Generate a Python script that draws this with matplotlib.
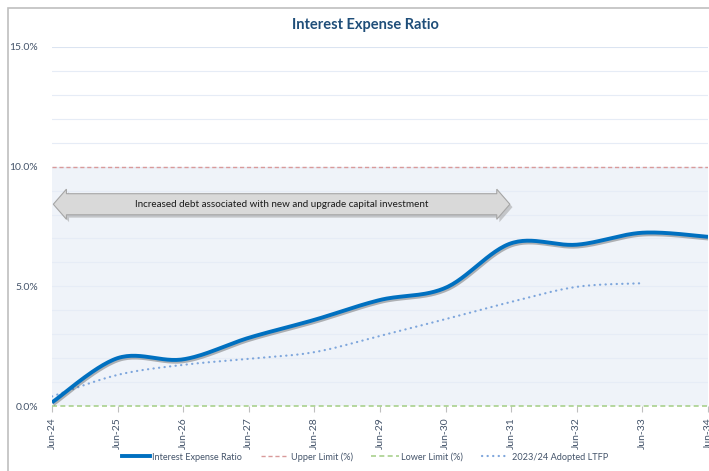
import numpy as np
import matplotlib
matplotlib.use("Agg")
import matplotlib.pyplot as plt
import matplotlib.patheffects as pe
from matplotlib.patches import Polygon, Rectangle
from matplotlib.lines import Line2D

plt.rcParams["font.family"] = ["Lato", "DejaVu Sans"]

# ---- data ---------------------------------------------------------------
periods = ["Jun-24", "Jun-25", "Jun-26", "Jun-27", "Jun-28", "Jun-29",
           "Jun-30", "Jun-31", "Jun-32", "Jun-33", "Jun-34"]
interest_ratio = [0.15, 2.00, 1.95, 2.85, 3.60, 4.43, 4.94, 6.80, 6.74, 7.24, 7.07]
ltfp_2324 = [0.40, 1.30, 1.72, 1.97, 2.25, 2.93, 3.63, 4.35, 4.98, 5.13]
upper_limit = 10.0
lower_limit = 0.0
arrow_text = "Increased debt associated with new and upgrade capital investment"
arrow_span = ("Jun-24", "Jun-31")


def smooth(xv, yv, n=30):
    """Excel-style smoothed line: cubic Bezier through each point."""
    p = np.column_stack([xv, yv]).astype(float)
    out = []
    for i in range(len(p) - 1):
        p0 = p[i - 1] if i > 0 else p[i]
        p1, p2 = p[i], p[i + 1]
        p3 = p[i + 2] if i + 2 < len(p) else p[i + 1]
        c1 = p1 + (p2 - p0) / 6.0
        c2 = p2 - (p3 - p1) / 6.0
        t = np.linspace(0, 1, n)[:, None]
        seg = ((1 - t) ** 3) * p1 + 3 * ((1 - t) ** 2) * t * c1 \
            + 3 * (1 - t) * t ** 2 * c2 + t ** 3 * p2
        out.append(seg if i == 0 else seg[1:])
    s = np.vstack(out)
    return s[:, 0], s[:, 1]


DOTS = (0, (0.1, 2.4))

fig = plt.figure(figsize=(7.09, 4.71), dpi=100)
fig.patch.set_facecolor("white")
# chart-area border (cropped at right / bottom in the original)
fig.add_artist(Rectangle((8 / 709, -0.1), 1.2, 1 - 8 / 471 + 0.1,
                         transform=fig.transFigure, fill=False,
                         ec="#bfbfbf", lw=1.2))

ax = fig.add_axes([52 / 709, 1 - 406 / 471, 656 / 709, 359 / 471])
ax.set_xlim(0, len(periods) - 1)
ax.set_ylim(0, 15)
for s in ax.spines.values():
    s.set_visible(False)

ax.axhspan(0, upper_limit, color="#eff3f9", zorder=0, lw=0)
for g in range(1, 16):
    ax.axhline(g, color="#e6ecf6" if g != 15 else "#dbe4f1", lw=0.8, zorder=0.5)

x = np.arange(len(periods))
ax.axhline(upper_limit, color="#d99a9a", lw=1.0, ls=(0, (3, 2)), zorder=2)
ax.axhline(lower_limit, color="#a9d18e", lw=1.2, ls=(0, (3, 2)), zorder=2,
           clip_on=False)

xs, ys = smooth(x[:len(ltfp_2324)], ltfp_2324)
ax.plot(xs, ys, color="#7ea6dc", lw=1.6, ls=DOTS, zorder=3,
        dash_capstyle="round")

xs, ys = smooth(x, interest_ratio)
ax.plot(xs, ys, color="#0070c0", lw=2.8, zorder=4, solid_capstyle="butt",
        path_effects=[pe.SimpleLineShadow(offset=(0.8, -1.3), shadow_color="#333333",
                                          alpha=0.35),
                      pe.Normal()])

# block double arrow annotation
x0 = periods.index(arrow_span[0]) + 0.02
x1 = periods.index(arrow_span[1]) - 0.02
hl = 0.2
yc, bh, hh = 8.43, 0.44, 0.63
verts = [(x0, yc), (x0 + hl, yc + hh), (x0 + hl, yc + bh), (x1 - hl, yc + bh),
         (x1 - hl, yc + hh), (x1, yc), (x1 - hl, yc - hh), (x1 - hl, yc - bh),
         (x0 + hl, yc - bh), (x0 + hl, yc - hh)]
shadow = Polygon([(vx + 0.04, vy - 0.12) for vx, vy in verts], closed=True,
                 fc="#9a9a9a", ec="none", alpha=0.5, zorder=5)
ax.add_patch(shadow)
ax.add_patch(Polygon(verts, closed=True, fc="#d9d9d9", ec="#a6a6a6", lw=0.8,
                     zorder=6))
ax.text((x0 + x1) / 2, yc, arrow_text, ha="center", va="center",
        fontsize=7.1, color="#1a1a1a", zorder=7)

ax.set_yticks([0, 5, 10, 15])
ax.set_yticklabels([f"{v:.1f}%" for v in [0, 5, 10, 15]])
ax.set_xticks(x)
ax.set_xticklabels(periods, rotation=90)
ax.tick_params(axis="y", length=0, pad=10, labelsize=7.5, labelcolor="#44546a")
ax.tick_params(axis="x", length=4, width=0.8, color="#bfbfbf", pad=4,
               labelsize=7.5, labelcolor="#44546a")

fig.text(0.515, 0.947, "Interest Expense Ratio", ha="center", va="center",
         fontsize=10.5, fontweight="bold", color="#1f4e79")

handles = [
    Line2D([], [], color="#0070c0", lw=2.8),
    Line2D([], [], color="#d99a9a", lw=1.0, ls=(0, (3, 2))),
    Line2D([], [], color="#a9d18e", lw=1.2, ls=(0, (3, 2))),
    Line2D([], [], color="#7ea6dc", lw=1.6, ls=DOTS, dash_capstyle="round"),
]
labels = ["Interest Expense Ratio", "Upper Limit (%)", "Lower Limit (%)",
          "2023/24 Adopted LTFP"]
fig.legend(handles, labels, loc="center", bbox_to_anchor=(0.515, 0.03),
           ncol=4, frameon=False, fontsize=6.6, handlelength=3.0,
           columnspacing=2.0, handletextpad=0.3, labelcolor="#44546a")

fig.savefig("out.png", dpi=100)
